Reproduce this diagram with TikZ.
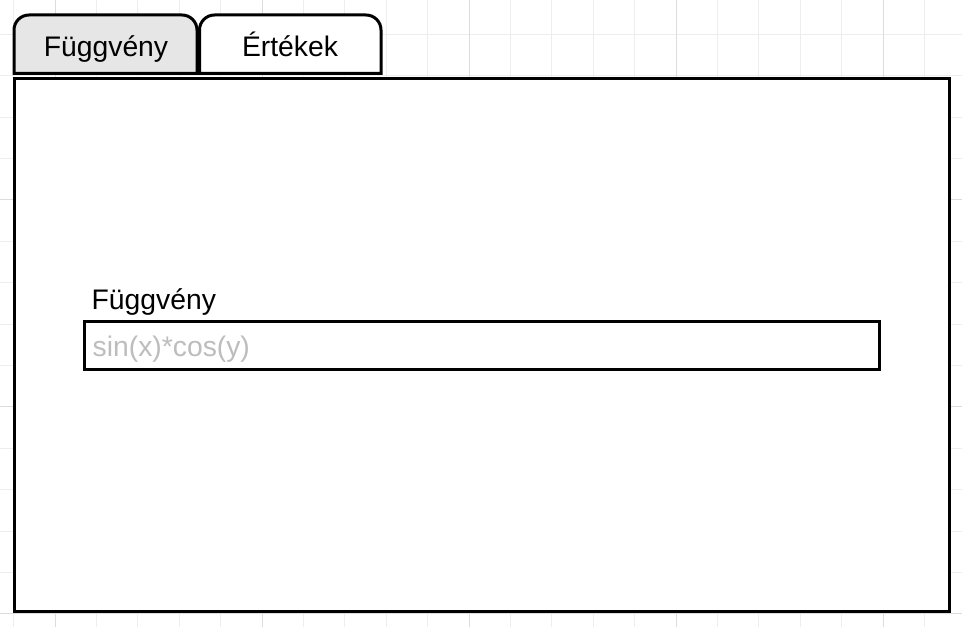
\documentclass[tikz,border=0pt]{standalone}
\usepackage{fontspec}
\setmainfont{Liberation Sans}
\definecolor{gridminor}{HTML}{EDEDED}
\definecolor{gridmajor}{HTML}{DCDCDC}
\definecolor{tabgray}{HTML}{E6E6E6}
\definecolor{placeholder}{HTML}{BDBDBD}
\tikzset{
  frame/.style={draw=black, line width=3pt, fill=white},
  tabshape/.style={draw=black, line width=3pt},
  uitext/.style={font=\fontsize{28.3}{33}\selectfont, text=black, inner sep=0pt},
  phtext/.style={font=\fontsize{28.3}{33}\selectfont, text=placeholder, inner sep=0pt},
}
\begin{document}
\begin{tikzpicture}[x=1pt,y=1pt]
\useasboundingbox (0,0) rectangle (962,627);
% grid
\begin{scope}
\clip (0,0) rectangle (962,627);
\foreach \k in {0,...,23} {
  \pgfmathsetmacro{\gx}{13.6+41.4*\k}
  \draw[gridminor, line width=1pt] (\gx,0) -- (\gx,627);
}
\foreach \k in {-1,...,14} {
  \pgfmathsetmacro{\gy}{592.6-41.4*\k}
  \draw[gridminor, line width=1pt] (0,\gy) -- (962,\gy);
}
\foreach \gx in {55,262,469,676,883} {
  \draw[gridmajor, line width=1pt] (\gx,0) -- (\gx,627);
}
\foreach \gy in {427,220,13} {
  \draw[gridmajor, line width=1pt] (0,\gy) -- (962,\gy);
}
\end{scope}
% main panel
\draw[frame] (14,15) rectangle (949,548.5);
% tabs
\draw[tabshape, fill=tabgray] (14,553.5) -- (14,597) arc[start angle=180, end angle=90, radius=15] -- (182,612) arc[start angle=90, end angle=0, radius=15] -- (197,553.5) -- cycle;
\draw[tabshape, fill=white] (199.5,553.5) -- (199.5,597) arc[start angle=180, end angle=90, radius=15] -- (366,612) arc[start angle=90, end angle=0, radius=15] -- (381,553.5) -- cycle;
\node[uitext, anchor=base] (tabfunc) at (106,570.5) {Függvény};
\node[uitext, anchor=base] (tabvals) at (290,570.5) {Értékek};
% field
\node[uitext, anchor=base west] (fieldlabel) at (91.5,317) {Függvény};
\draw[frame] (84.5,257) rectangle (879,305);
\node[phtext, anchor=base west] (fieldph) at (92.5,270) {sin(x)*cos(y)};
\end{tikzpicture}
\end{document}
